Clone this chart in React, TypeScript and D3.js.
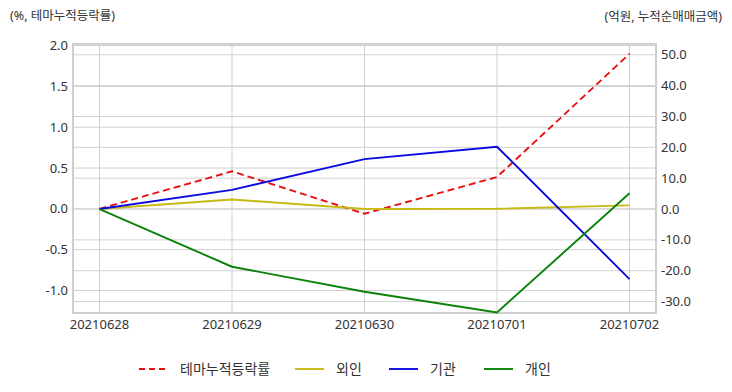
import React from "react";
import * as d3 from "d3";

const dates = ["20210628", "20210629", "20210630", "20210701", "20210702"];
const themeReturn = [0, 0.46, -0.06, 0.39, 1.9];
const foreign = [0, 3.1, 0, 0.1, 1.2];
const institution = [0, 6.2, 16.2, 20.2, -22.7];
const individual = [0, -18.7, -26.8, -33.5, 5.1];
const leftTicks = [-1.0, -0.5, 0, 0.5, 1.0, 1.5, 2.0];
const rightTicks = [-30, -20, -10, 0, 10, 20, 30, 40, 50];

const W = 732, H = 392;
const left = 73, right = 656, top = 44, bottom = 313;
const font = "'Noto Sans', 'Noto Sans CJK KR', sans-serif";

export default function App() {
  const x = d3.scalePoint<string>().domain(dates).range([left, right]).padding(0.2);
  const yL = d3.scaleLinear().domain([-1.276, 2.02]).range([bottom, top]);
  const yR = d3.scaleLinear().domain([-33.7, 53.5]).range([bottom, top]);
  const lineL = d3.line<number>().x((_, i) => x(dates[i])!).y((d) => yL(d));
  const lineR = d3.line<number>().x((_, i) => x(dates[i])!).y((d) => yR(d));

  const series = [
    { name: "테마누적등락률", color: "#e8100f", dash: "7,4", d: lineL(themeReturn) },
    { name: "외인", color: "#c8b914", dash: undefined, d: lineR(foreign) },
    { name: "기관", color: "#0a0ae0", dash: undefined, d: lineR(institution) },
    { name: "개인", color: "#0a820a", dash: undefined, d: lineR(individual) },
  ];
  const legendX = [139, 295, 389, 484];

  return (
    <svg width={W} height={H} style={{ position: "absolute", left: 0, top: 0, fontFamily: font }}>
      <rect x={0} y={0} width={W} height={H} fill="#fff" />
      {leftTicks.map((t) => (
        <line key={"gl" + t} x1={left} x2={right} y1={yL(t)} y2={yL(t)} stroke="#d0d0d0" strokeWidth={1} />
      ))}
      {rightTicks.map((t) => (
        <line key={"gr" + t} x1={left} x2={right} y1={yR(t)} y2={yR(t)} stroke="#d0d0d0" strokeWidth={1} />
      ))}
      {dates.map((d) => (
        <line key={"gx" + d} x1={x(d)} x2={x(d)} y1={top} y2={bottom} stroke="#d0d0d0" strokeWidth={1} />
      ))}
      <rect x={left} y={top} width={right - left} height={bottom - top} fill="none" stroke="#cfcfcf" strokeWidth={2} />
      {series.map((s) => (
        <path key={s.name} d={s.d!} fill="none" stroke={s.color} strokeWidth={1.9} strokeDasharray={s.dash} />
      ))}
      {leftTicks.map((t) => (
        <text key={"tl" + t} x={68} y={yL(t)} dy="0.35em" textAnchor="end" fontSize={13} fill="#333">
          {t.toFixed(1)}
        </text>
      ))}
      {rightTicks.map((t) => (
        <text key={"tr" + t} x={661} y={yR(t)} dy="0.35em" textAnchor="start" fontSize={13} fill="#333">
          {t.toFixed(1)}
        </text>
      ))}
      {dates.map((d) => (
        <text key={"tx" + d} x={x(d)} y={329} textAnchor="middle" fontSize={13} fill="#333">
          {d}
        </text>
      ))}
      <text x={10} y={20} fontSize={12.5} fill="#333">(%, 테마누적등락률)</text>
      <text x={722} y={21} textAnchor="end" fontSize={12.5} fill="#333">(억원, 누적순매매금액)</text>
      {series.map((s, i) => (
        <g key={"lg" + s.name}>
          <line x1={legendX[i]} x2={legendX[i] + 29} y1={369} y2={369} stroke={s.color} strokeWidth={1.9} strokeDasharray={s.dash ? "6,4" : undefined} />
          <text x={legendX[i] + 41} y={369} dy="0.35em" fontSize={14} fill="#333">{s.name}</text>
        </g>
      ))}
    </svg>
  );
}
